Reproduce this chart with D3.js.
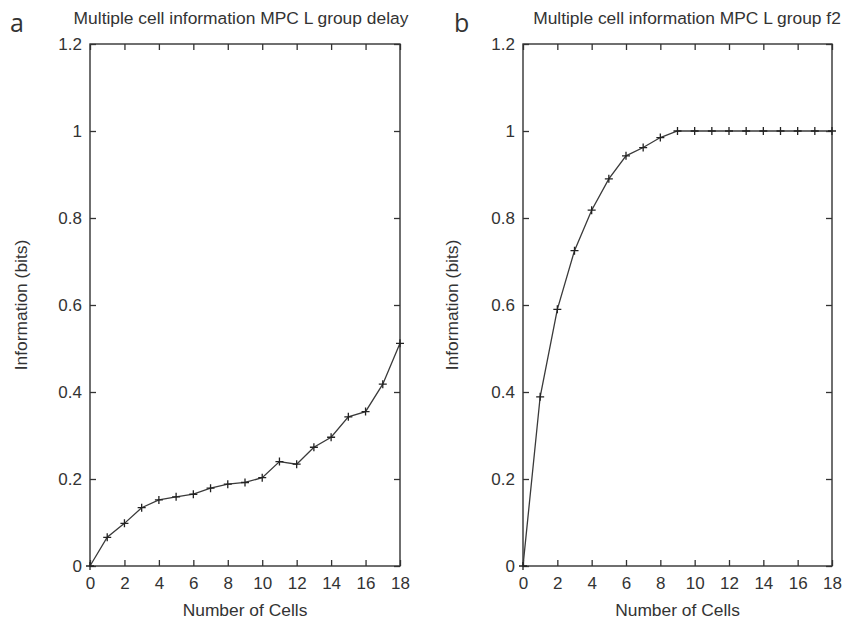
<!DOCTYPE html>
<html>
<head>
<meta charset="utf-8">
<script src="https://cdn.jsdelivr.net/npm/d3@7"></script>
<style>
  body { margin: 0; background: #fff; }
  text { font-family: "Liberation Sans", Arial, sans-serif; fill: #333; }
</style>
</head>
<body>
<div id="main"></div>
<script>
const ctx = { w: 846, h: 624, plotTop: 44, plotBottom: 566 };

// values
const cells = [0, 1, 2, 3, 4, 5, 6, 7, 8, 9, 10, 11, 12, 13, 14, 15, 16, 17, 18];
const delayInfo = [0, 0.066, 0.098, 0.134, 0.152, 0.159, 0.165, 0.179, 0.188, 0.192, 0.203,
                   0.240, 0.234, 0.273, 0.296, 0.343, 0.355, 0.418, 0.512];
const f2Info = [0, 0.389, 0.590, 0.725, 0.818, 0.890, 0.943, 0.962, 0.985, 1, 1,
                1, 1, 1, 1, 1, 1, 1, 1];
const xTicks = [0, 2, 4, 6, 8, 10, 12, 14, 16, 18];
const yTicks = [0, 0.2, 0.4, 0.6, 0.8, 1, 1.2];

const panels = [
    { letter: "a", title: "Multiple cell information MPC L group delay", values: delayInfo,
      left: 90, right: 400, titleX: 241, letterX: 10, yLabelX: 27 },
    { letter: "b", title: "Multiple cell information MPC L group f2", values: f2Info,
      left: 523, right: 832, titleX: 687, letterX: 454, yLabelX: 458 }
];

const svg = d3.select("#main").append("svg")
    .attr("width", ctx.w)
    .attr("height", ctx.h);

function drawPanel(p) {
    const yT = ctx.plotTop, yB = ctx.plotBottom;
    const x = d3.scaleLinear().domain([0, 18]).range([p.left, p.right]);
    const y = d3.scaleLinear().domain([0, 1.2]).range([yB, yT]);
    const g = svg.append("g");

    // inward ticks on all four sides
    g.append("g").attr("transform", `translate(0,${yB})`)
        .call(d3.axisBottom(x).tickValues(xTicks).tickSizeInner(-6).tickSizeOuter(0).tickPadding(11));
    g.append("g").attr("transform", `translate(0,${yT})`)
        .call(d3.axisTop(x).tickValues(xTicks).tickSizeInner(-6).tickSizeOuter(0).tickFormat(""));
    g.append("g").attr("transform", `translate(${p.left},0)`)
        .call(d3.axisLeft(y).tickValues(yTicks).tickSizeInner(-6).tickSizeOuter(0).tickPadding(8)
            .tickFormat(d3.format("~g")));
    g.append("g").attr("transform", `translate(${p.right},0)`)
        .call(d3.axisRight(y).tickValues(yTicks).tickSizeInner(-6).tickSizeOuter(0).tickFormat(""));

    g.selectAll(".domain").remove();
    g.selectAll(".tick line").attr("stroke", "#333").attr("stroke-width", 1.3);
    g.selectAll(".tick text").style("font-size", "17px").attr("fill", "#333");

    g.append("rect")
        .attr("x", p.left).attr("y", yT)
        .attr("width", p.right - p.left).attr("height", yB - yT)
        .attr("fill", "none").attr("stroke", "#333").attr("stroke-width", 1.4);

    const pts = cells.map((c, i) => ({ c: c, v: p.values[i] }));
    g.append("path")
        .datum(pts)
        .attr("fill", "none")
        .attr("stroke", "#3a3a3a")
        .attr("stroke-width", 1.3)
        .attr("d", d3.line().x(d => x(d.c)).y(d => y(d.v)));

    const s = 4;
    g.append("g").selectAll("path")
        .data(pts)
        .enter().append("path")
        .attr("stroke", "#222")
        .attr("stroke-width", 1.3)
        .attr("d", d => `M${x(d.c) - s},${y(d.v)}H${x(d.c) + s}M${x(d.c)},${y(d.v) - s}V${y(d.v) + s}`);

    g.append("text")
        .attr("x", p.titleX).attr("y", 24)
        .attr("text-anchor", "middle")
        .style("font-size", "17.4px")
        .text(p.title);

    g.append("text")
        .attr("x", p.letterX).attr("y", 32)
        .style("font-family", "'Open Sans', sans-serif")
        .style("font-size", "25px")
        .attr("fill", "#222")
        .text(p.letter);

    g.append("text")
        .attr("transform", `translate(${p.yLabelX},${(yT + yB) / 2}) rotate(-90)`)
        .attr("text-anchor", "middle")
        .style("font-size", "17.4px")
        .text("Information (bits)");

    g.append("text")
        .attr("x", (p.left + p.right) / 2).attr("y", 616)
        .attr("text-anchor", "middle")
        .style("font-size", "17.4px")
        .text("Number of Cells");
}

panels.forEach(drawPanel);
</script>
</body>
</html>
